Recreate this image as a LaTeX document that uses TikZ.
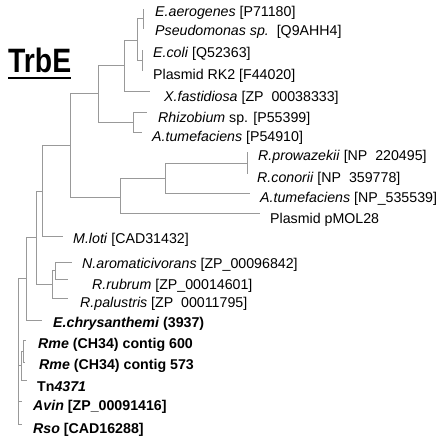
\documentclass[tikz,border=0pt]{standalone}
\usepackage{fontspec}
\setmainfont{Liberation Sans}
\begin{document}
\begin{tikzpicture}[x=1pt,y=-1pt,
  br/.style={draw=black!40, line width=0.6pt},
  lab/.style={anchor=base west, inner sep=0pt, font=\fontsize{14.2}{16}\selectfont, text=black},
  blab/.style={anchor=base west, inner sep=0pt, font=\fontsize{14.2}{16}\selectfont\bfseries, text=black}]
\useasboundingbox (0,0) rectangle (443,444);
% title
\node[anchor=base west, inner sep=0pt] (title) at (8,72)
  {\resizebox{63pt}{24.5pt}{\bfseries TrbE}};
\draw[line width=2.2pt] ([yshift=-6pt]title.base west) -- ([yshift=-6pt]title.base east);
% internal nodes
\coordinate (R) at (18,278);
\coordinate (J) at (26,278);
\coordinate (I) at (36,237);
\coordinate (G) at (42,191);
\coordinate (F) at (70,145);
\coordinate (E) at (98,93);
\coordinate (D) at (124,65);
\coordinate (C) at (137,40);
\coordinate (A) at (143,18.5);
\coordinate (B) at (142,60);
\coordinate (Q) at (133,122);
\coordinate (P) at (120,197);
\coordinate (S) at (165,178);
\coordinate (T) at (247,163);
\coordinate (L) at (52,284);
\coordinate (H) at (55,270.5);
\coordinate (N) at (21,365);
\coordinate (M) at (23,351);
% leaf ends
\coordinate (l1) at (144,9);
\coordinate (l2) at (144,28);
\coordinate (l3) at (143,50);
\coordinate (l4) at (143,70);
\coordinate (l5) at (150,91);
\coordinate (l6) at (147,112);
\coordinate (l7) at (142,132);
\coordinate (l8) at (248,152);
\coordinate (l9) at (248,173);
\coordinate (l10) at (250,193);
\coordinate (l11) at (260,213);
\coordinate (l12) at (63,236);
\coordinate (l13) at (72,262);
\coordinate (l14) at (68,279);
\coordinate (l15) at (68,298);
\coordinate (l16) at (42,320);
\coordinate (l17) at (26,340);
\coordinate (l18) at (25,362);
\coordinate (l19) at (27,380);
\coordinate (l20) at (22,401);
\coordinate (l21) at (22,424);
% branches
\draw[br] (R) |- (J);
\draw[br] (R) |- (N);
\draw[br] (R) |- (l20);
\draw[br] (R) |- (l21);
\draw[br] (J) |- (I);
\draw[br] (J) |- (l16);
\draw[br] (I) |- (G);
\draw[br] (I) |- (L);
\draw[br] (G) |- (F);
\draw[br] (G) |- (l12);
\draw[br] (F) |- (E);
\draw[br] (F) |- (P);
\draw[br] (E) |- (D);
\draw[br] (E) |- (Q);
\draw[br] (D) |- (C);
\draw[br] (D) |- (l5);
\draw[br] (C) |- (A);
\draw[br] (C) |- (B);
\draw[br] (A) |- (l1);
\draw[br] (A) |- (l2);
\draw[br] (B) |- (l3);
\draw[br] (B) |- (l4);
\draw[br] (Q) |- (l6);
\draw[br] (Q) |- (l7);
\draw[br] (P) |- (S);
\draw[br] (P) |- (l11);
\draw[br] (S) |- (T);
\draw[br] (S) |- (l10);
\draw[br] (T) |- (l8);
\draw[br] (T) |- (l9);
\draw[br] (L) |- (H);
\draw[br] (L) |- (l15);
\draw[br] (H) |- (l13);
\draw[br] (H) |- (l14);
\draw[br] (N) |- (M);
\draw[br] (N) |- (l19);
\draw[br] (M) |- (l17);
\draw[br] (M) |- (l18);
% labels
\node[lab] (t1) at (155,17) {\textit{E.aerogenes} [P71180]};
\node[lab] (t2) at (155,36) {\textit{Pseudomonas sp.}\ \ [Q9AHH4]};
\node[lab] (t3) at (153,58) {\textit{E.coli} [Q52363]};
\node[lab] (t4) at (153,79) {Plasmid RK2 [F44020]};
\node[lab] (t5) at (164,101) {\textit{X.fastidiosa} [ZP\ \ 00038333]};
\node[lab] (t6) at (158,122) {\textit{Rhizobium} sp. [P55399]};
\node[lab] (t7) at (152,141) {\textit{A.tumefaciens} [P54910]};
\node[lab] (t8) at (258,160) {\textit{R.prowazekii} [NP\ \ 220495]};
\node[lab] (t9) at (257,182) {\textit{R.conorii} [NP\ \ 359778]};
\node[lab] (t10) at (260,202) {\textit{A.tumefaciens} [NP\_535539]};
\node[lab] (t11) at (270,223) {Plasmid pMOL28};
\node[lab] (t12) at (73,243) {\textit{M.loti} [CAD31432]};
\node[lab] (t13) at (82,268) {\textit{N.aromaticivorans} [ZP\_00096842]};
\node[lab] (t14) at (92,289) {\textit{R.rubrum} [ZP\_00014601]};
\node[lab] (t15) at (80,307) {\textit{R.palustris} [ZP\ \ 00011795]};
\node[blab] (t16) at (53,327) {\textit{E.chrysanthemi} (3937)};
\node[blab] (t17) at (38,348) {\textit{Rme} (CH34) contig 600};
\node[blab] (t18) at (39,369) {\textit{Rme} (CH34) contig 573};
\node[blab] (t19) at (37,391) {Tn\textit{4371}};
\node[blab] (t20) at (33,410) {\textit{Avin} [ZP\_00091416]};
\node[blab] (t21) at (33,433) {\textit{Rso} [CAD16288]};
\end{tikzpicture}
\end{document}
